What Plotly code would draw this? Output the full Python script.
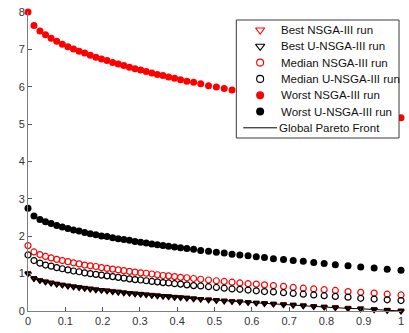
import plotly.graph_objects as go

# f1 positions of the solutions (shared by every run)
f1 = [0, 0.016, 0.032, 0.047, 0.062, 0.077, 0.092, 0.107, 0.122, 0.137,
      0.152, 0.167, 0.182, 0.197, 0.212, 0.227, 0.242, 0.257, 0.272, 0.287,
      0.302, 0.317, 0.332, 0.347, 0.362, 0.377, 0.393, 0.409, 0.426, 0.444,
      0.463, 0.484, 0.505, 0.526, 0.547, 0.568, 0.590, 0.612, 0.634, 0.658,
      0.685, 0.711, 0.738, 0.766, 0.794, 0.824, 0.858, 0.892, 0.928, 0.963, 1.0]

front = [1.00, 0.87, 0.82, 0.78, 0.75, 0.72, 0.70, 0.67, 0.65, 0.63,
         0.61, 0.59, 0.57, 0.56, 0.54, 0.52, 0.51, 0.49, 0.48, 0.46,
         0.45, 0.44, 0.42, 0.41, 0.40, 0.39, 0.37, 0.36, 0.35, 0.33,
         0.32, 0.30, 0.29, 0.27, 0.26, 0.25, 0.23, 0.22, 0.20, 0.19,
         0.17, 0.16, 0.14, 0.12, 0.11, 0.09, 0.07, 0.06, 0.04, 0.02, 0.00]

best_nsga3 = [1.01, 0.88, 0.82, 0.79, 0.76, 0.73, 0.70, 0.68, 0.66, 0.64,
              0.62, 0.60, 0.58, 0.56, 0.55, 0.53, 0.51, 0.50, 0.48, 0.47,
              0.46, 0.44, 0.43, 0.42, 0.40, 0.39, 0.38, 0.37, 0.35, 0.34,
              0.32, 0.31, 0.29, 0.28, 0.26, 0.25, 0.24, 0.22, 0.21, 0.19,
              0.18, 0.16, 0.15, 0.13, 0.11, 0.10, 0.08, 0.06, 0.04, 0.03, 0.01]

best_unsga3 = front

median_nsga3 = [1.75, 1.58, 1.51, 1.46, 1.42, 1.38, 1.35, 1.32, 1.29, 1.26,
                1.23, 1.21, 1.19, 1.16, 1.14, 1.12, 1.10, 1.08, 1.06, 1.04,
                1.02, 1.01, 0.99, 0.97, 0.95, 0.94, 0.92, 0.90, 0.89, 0.87,
                0.85, 0.83, 0.81, 0.79, 0.77, 0.75, 0.73, 0.72, 0.70, 0.68,
                0.66, 0.63, 0.61, 0.59, 0.57, 0.55, 0.52, 0.50, 0.48, 0.45, 0.43]

median_unsga3 = [1.50, 1.35, 1.28, 1.23, 1.20, 1.16, 1.13, 1.10, 1.07, 1.05,
                 1.02, 1.00, 0.98, 0.96, 0.94, 0.92, 0.90, 0.88, 0.86, 0.84,
                 0.83, 0.81, 0.79, 0.78, 0.76, 0.75, 0.73, 0.72, 0.70, 0.68,
                 0.67, 0.65, 0.63, 0.61, 0.59, 0.58, 0.56, 0.54, 0.52, 0.51,
                 0.49, 0.47, 0.45, 0.43, 0.41, 0.39, 0.37, 0.34, 0.32, 0.30, 0.28]

worst_nsga3 = [8.00, 7.64, 7.49, 7.39, 7.30, 7.22, 7.14, 7.07, 7.01, 6.95,
               6.90, 6.84, 6.79, 6.74, 6.70, 6.65, 6.61, 6.57, 6.52, 6.48,
               6.45, 6.41, 6.37, 6.33, 6.30, 6.26, 6.23, 6.19, 6.15, 6.12,
               6.08, 6.03, 5.99, 5.95, 5.91, 5.87, 5.83, 5.79, 5.75, 5.71,
               5.66, 5.62, 5.57, 5.52, 5.48, 5.43, 5.38, 5.33, 5.28, 5.22, 5.17]

worst_unsga3 = [2.75, 2.54, 2.45, 2.39, 2.34, 2.29, 2.25, 2.21, 2.17, 2.14,
                2.10, 2.07, 2.04, 2.01, 1.99, 1.96, 1.93, 1.91, 1.89, 1.86,
                1.84, 1.82, 1.79, 1.77, 1.75, 1.73, 1.71, 1.69, 1.67, 1.65,
                1.62, 1.60, 1.57, 1.55, 1.52, 1.50, 1.48, 1.45, 1.43, 1.40,
                1.38, 1.35, 1.33, 1.30, 1.27, 1.24, 1.21, 1.18, 1.15, 1.12, 1.09]

legend_labels = ["Best NSGA-III run", "Best U-NSGA-III run", "Median NSGA-III run",
                 "Median U-NSGA-III run", "Worst NSGA-III run", "Worst U-NSGA-III run",
                 "Global Pareto Front"]

RED = "#ff0000"
BLACK = "#000000"
FONT = "Liberation Sans, Arial, sans-serif"

# plot area in page pixels
W, H = 409, 333
ML, MR, MT, MB = 28, 5, 12, 22

# (symbol, colour, size in plot, size in key, line width in plot)
styles = [
    ("triangle-down-open", RED, 5, 8, 1.8),
    ("triangle-down-open", BLACK, 5, 8, 1.8),
    ("circle-open", RED, 6, 7, 1.2),
    ("circle-open", BLACK, 6, 7, 1.2),
    ("circle", RED, 7, 8, 0),
    ("circle", BLACK, 7, 8, 0),
]
series = [best_nsga3, best_unsga3, median_nsga3, median_unsga3, worst_nsga3, worst_unsga3]

fig = go.Figure()

for y, label, (sym, col, size, _, lw) in zip(series, legend_labels, styles):
    fig.add_trace(go.Scatter(
        x=f1, y=y, name=label, mode="markers", cliponaxis=False, showlegend=False,
        marker=dict(symbol=sym, size=size, color=col, line=dict(color=col, width=lw)),
    ))

fig.add_trace(go.Scatter(
    x=f1, y=front, name=legend_labels[-1], mode="lines", showlegend=False,
    line=dict(color=BLACK, width=1), cliponaxis=False,
))

# ---- legend box drawn on an overlay axis measured in page pixels ----
box_l, box_r, box_t, box_b = 238, 402, 20, 138
row0, row_step = 30, 16.3
key_x, text_x = 262, 281

fig.add_trace(go.Scatter(
    x=[box_l, box_r, box_r, box_l, box_l], y=[box_t, box_t, box_b, box_b, box_t],
    xaxis="x2", yaxis="y2", mode="lines", fill="toself", fillcolor="white",
    line=dict(color="#3a3a3a", width=1), showlegend=False, hoverinfo="skip",
))

for i, (sym, col, _, ksize, lw) in enumerate(styles):
    fig.add_trace(go.Scatter(
        x=[key_x], y=[row0 + i * row_step], xaxis="x2", yaxis="y2", mode="markers",
        marker=dict(symbol=sym, size=ksize, color=col,
                    line=dict(color=col, width=1.1 if lw else 0)),
        showlegend=False, hoverinfo="skip",
    ))

fig.add_trace(go.Scatter(
    x=[245, 279], y=[row0 + 6 * row_step] * 2, xaxis="x2", yaxis="y2", mode="lines",
    line=dict(color=BLACK, width=1), showlegend=False, hoverinfo="skip",
))

annotations = []
for i, label in enumerate(legend_labels):
    annotations.append(dict(
        x=text_x if i < 6 else 279, y=row0 + i * row_step, xref="x2", yref="y2",
        text=label, showarrow=False, xanchor="left", yanchor="middle",
        font=dict(family=FONT, size=11.5, color="#111111"),
    ))

axis_common = dict(
    showgrid=False, zeroline=False, showline=True, linecolor="#7f7f7f",
    linewidth=1, ticks="inside", ticklen=4, tickcolor="#555555",
    tickfont=dict(family=FONT, size=11, color="#333333"),
    mirror=False,
)

fig.update_layout(
    width=W, height=H,
    margin=dict(l=ML, r=MR, t=MT, b=MB),
    paper_bgcolor="white", plot_bgcolor="white",
    xaxis=dict(range=[0, 1], tickvals=[0, 0.1, 0.2, 0.3, 0.4, 0.5, 0.6, 0.7, 0.8, 0.9, 1],
               ticktext=["0", "0.1", "0.2", "0.3", "0.4", "0.5", "0.6", "0.7", "0.8", "0.9", "1"],
               **axis_common),
    yaxis=dict(range=[0, 8], tickvals=list(range(0, 9)), **axis_common),
    xaxis2=dict(overlaying="x", range=[ML, W - MR], visible=False, fixedrange=True),
    yaxis2=dict(overlaying="y", range=[H - MB, MT], visible=False, fixedrange=True),
    annotations=annotations,
    showlegend=False,
)

fig.write_html("out.html")
